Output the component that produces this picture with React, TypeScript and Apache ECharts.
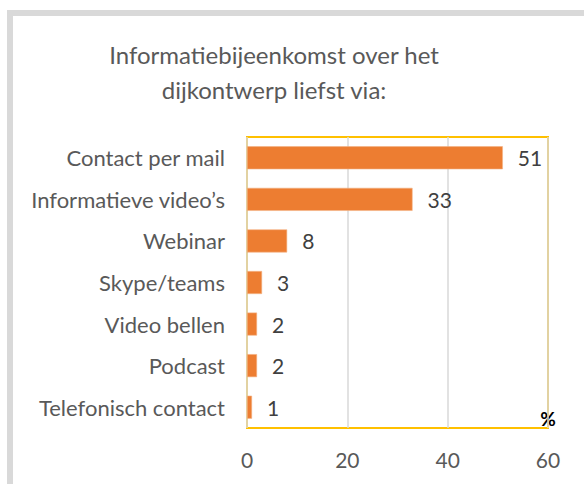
import React, { useEffect, useRef } from "react";
import * as echarts from "echarts";

const categories = [
  "Contact per mail",
  "Informatieve video’s",
  "Webinar",
  "Skype/teams",
  "Video bellen",
  "Podcast",
  "Telefonisch contact",
];
const values = [51, 33, 8, 3, 2, 2, 1];
const axisMin = 0;
const axisMax = 60;
const axisInterval = 20;
const titleText = "Informatiebijeenkomst over het\ndijkontwerp liefst via:";
const unitText = "%";

const FONT = "Lato, 'Noto Sans', sans-serif";

export default function App() {
  const ref = useRef<HTMLDivElement>(null);
  useEffect(() => {
    if (!ref.current) return;
    const chart = echarts.init(ref.current, null, { renderer: "svg" });
    chart.setOption({
      animation: false,
      backgroundColor: "#ffffff",
      grid: {
        left: 247,
        right: 37,
        top: 137,
        bottom: 56,
        show: true,
        borderColor: "#FFC000",
        borderWidth: 2,
        backgroundColor: "transparent",
      },
      xAxis: {
        type: "value",
        min: axisMin,
        max: axisMax,
        interval: axisInterval,
        axisLine: { show: false },
        axisTick: { show: false },
        splitLine: { show: true, lineStyle: { color: "#d9d9d9", width: 1.5 } },
        axisLabel: {
          color: "#595959",
          fontSize: 21,
          fontFamily: FONT,
          margin: 21,
        },
      },
      yAxis: {
        type: "category",
        data: categories,
        inverse: true,
        axisLine: { show: false },
        axisTick: { show: false },
        axisLabel: {
          color: "#595959",
          fontSize: 22,
          fontFamily: FONT,
          margin: 22,
        },
      },
      series: [
        {
          type: "bar",
          data: values,
          barWidth: 23,
          itemStyle: { color: "#ED7D31", borderColor: "#F4B183", borderWidth: 0.6 },
          label: {
            show: true,
            position: "right",
            distance: 15,
            color: "#404040",
            fontSize: 21,
            fontFamily: FONT,
          },
        },
      ],
      graphic: [
        {
          type: "rect",
          shape: { x: 7, y: 10, width: 577, height: 6 },
          style: { fill: "#d9d9d9" },
          silent: true,
        },
        {
          type: "rect",
          shape: { x: 7, y: 10, width: 6, height: 474 },
          style: { fill: "#d9d9d9" },
          silent: true,
        },
        {
          type: "text",
          x: 274,
          y: 37,
          style: {
            text: titleText,
            font: `24px ${FONT}`,
            fill: "#595959",
            textAlign: "center",
            textVerticalAlign: "top",
            lineHeight: 35,
          },
        },
        {
          type: "text",
          x: 548,
          y: 418,
          style: {
            text: unitText,
            font: `bold 19px ${FONT}`,
            fill: "#000000",
            textAlign: "center",
            textVerticalAlign: "middle",
          },
        },
      ],
    });
    return () => chart.dispose();
  }, []);
  return (
    <div
      ref={ref}
      style={{ position: "fixed", left: 0, top: 0, width: 585, height: 484 }}
    />
  );
}
